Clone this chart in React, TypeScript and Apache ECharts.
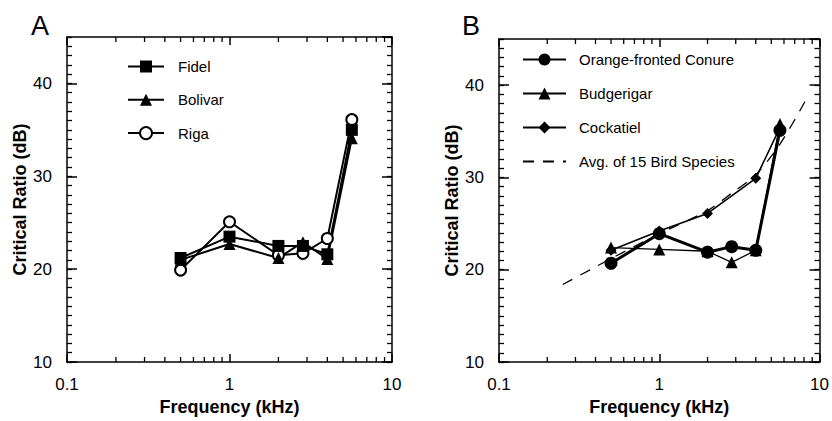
import React, { useEffect, useRef } from "react";
import * as echarts from "echarts";

// Panel A
const freqA = [0.5, 1, 2, 2.83, 4, 5.66];
const fidel = [21.2, 23.5, 22.5, 22.5, 21.6, 35.0];
const bolivar = [21.0, 22.7, 21.2, 22.9, 21.1, 34.1];
const riga = [19.9, 25.1, 21.5, 21.7, 23.3, 36.1];

// Panel B
const freqConure = [0.5, 1, 2, 2.83, 4, 5.66];
const conure = [20.7, 23.9, 21.9, 22.5, 22.1, 35.1];
const freqBudgie = [0.5, 1, 2, 2.83, 4, 5.66];
const budgerigar = [22.4, 22.2, 22.0, 20.8, 22.1, 35.8];
const freqCockatiel = [0.5, 1, 2, 4, 5.66];
const cockatiel = [22.1, 24.2, 26.1, 29.9, 35.4];
const freqAvg = [0.25, 0.5, 1, 2, 2.83, 4, 5.66, 8.1];
const avg15 = [18.4, 21.2, 23.9, 26.4, 28.3, 30.3, 33.6, 38.2];

const minorFreq = [0.2, 0.3, 0.4, 0.5, 0.6, 0.7, 0.8, 0.9, 2, 3, 4, 5, 6, 7, 8, 9];
const yMin = 10;
const yMax = 45;

const FONT = "'Liberation Sans', Arial, Helvetica, sans-serif";

const zip = (xs: number[], ys: number[]) => xs.map((x, i) => [x, ys[i]]);

export default function App() {
  const ref = useRef<HTMLDivElement>(null);
  useEffect(() => {
    if (!ref.current) return;
    const chart = echarts.init(ref.current, null, { renderer: "svg" });

    const grids = [
      { left: 67, top: 37, width: 325, height: 329 },
      { left: 499, top: 39, width: 326, height: 328 },
    ];

    const xAxes: any[] = [];
    const yAxes: any[] = [];
    grids.forEach((_, gi) => {
      xAxes.push({
        type: "log",
        logBase: 10,
        min: 0.1,
        max: 10,
        gridIndex: gi,
        position: "bottom",
        name: "Frequency (kHz)",
        nameLocation: "middle",
        nameGap: 36,
        nameTextStyle: { fontFamily: FONT, fontSize: 18, fontWeight: "bold", color: "#000" },
        axisLine: { lineStyle: { color: "#000", width: 1.5 } },
        axisTick: { inside: true, length: 8, lineStyle: { color: "#000", width: 1.5 } },
        axisLabel: {
          fontFamily: FONT,
          fontSize: 17,
          color: "#000",
          margin: 14,
          formatter: (v: number) => (v < 0.5 ? "0.1" : v < 5 ? "1" : "10"),
        },
        splitLine: { show: false },
      });
      xAxes.push({
        type: "log",
        logBase: 10,
        min: 0.1,
        max: 10,
        gridIndex: gi,
        position: "top",
        axisLine: { lineStyle: { color: "#000", width: 1.5 } },
        axisTick: { inside: true, length: 8, lineStyle: { color: "#000", width: 1.5 } },
        axisLabel: { show: false },
        splitLine: { show: false },
      });
      // left major with labels
      yAxes.push({
        type: "value",
        min: yMin,
        max: yMax,
        interval: 10,
        gridIndex: gi,
        position: "left",
        name: "Critical Ratio (dB)",
        nameLocation: "middle",
        nameGap: 35,
        nameTextStyle: { fontFamily: FONT, fontSize: 18, fontWeight: "bold", color: "#000" },
        axisLine: { show: true, lineStyle: { color: "#000", width: 1.5 } },
        axisTick: { inside: true, length: 10, lineStyle: { color: "#000", width: 1.5 } },
        axisLabel: {
          fontFamily: FONT,
          fontSize: 17,
          color: "#000",
          margin: 15,
          showMaxLabel: false,
          formatter: (v: number) => (v % 10 === 0 ? String(v) : ""),
        },
        splitLine: { show: false },
      });
      // left minor
      yAxes.push({
        type: "value",
        min: yMin,
        max: yMax,
        interval: 1,
        gridIndex: gi,
        position: "left",
        axisLine: { show: false },
        axisTick: { inside: true, length: 5, lineStyle: { color: "#000", width: 1.3 } },
        axisLabel: { show: false },
        splitLine: { show: false },
      });
      // right major
      yAxes.push({
        type: "value",
        min: yMin,
        max: yMax,
        interval: 10,
        gridIndex: gi,
        position: "right",
        axisLine: { show: true, lineStyle: { color: "#000", width: 1.5 } },
        axisTick: { inside: true, length: 10, lineStyle: { color: "#000", width: 1.5 } },
        axisLabel: { show: false },
        splitLine: { show: false },
      });
      // right minor
      yAxes.push({
        type: "value",
        min: yMin,
        max: yMax,
        interval: 1,
        gridIndex: gi,
        position: "right",
        axisLine: { show: false },
        axisTick: { inside: true, length: 5, lineStyle: { color: "#000", width: 1.3 } },
        axisLabel: { show: false },
        splitLine: { show: false },
      });
    });

    const minorTicks = (gi: number) => ({
      type: "custom",
      xAxisIndex: gi * 2,
      yAxisIndex: gi * 4,
      silent: true,
      data: minorFreq.map((f) => [f, yMin]),
      renderItem: (_p: any, api: any) => {
        const f = api.value(0);
        const b = api.coord([f, yMin]);
        const t = api.coord([f, yMax]);
        return {
          type: "group",
          children: [
            { type: "line", shape: { x1: b[0], y1: b[1], x2: b[0], y2: b[1] - 5 }, style: { stroke: "#000", lineWidth: 1.3 } },
            { type: "line", shape: { x1: t[0], y1: t[1], x2: t[0], y2: t[1] + 5 }, style: { stroke: "#000", lineWidth: 1.3 } },
          ],
        };
      },
    });

    const lineBase = (gi: number) => ({
      type: "line",
      xAxisIndex: gi * 2,
      yAxisIndex: gi * 4,
      showSymbol: true,
      symbolKeepAspect: true,
    });

    const option: any = {
      animation: false,
      backgroundColor: "#fff",
      textStyle: { fontFamily: FONT },
      grid: grids,
      xAxis: xAxes,
      yAxis: yAxes,
      graphic: [
        { type: "text", left: 31, top: 12, style: { text: "A", font: `27px ${FONT}`, fill: "#000" } },
        { type: "text", left: 462, top: 12, style: { text: "B", font: `27px ${FONT}`, fill: "#000" } },
      ],
      legend: [
        {
          orient: "vertical",
          left: 127,
          top: 59,
          padding: 0,
          itemWidth: 36,
          itemHeight: 15,
          itemGap: 18.3,
          data: ["Fidel", "Bolivar", "Riga"],
          textStyle: { fontFamily: FONT, fontSize: 15, color: "#000", padding: [0, 0, 0, 9] },
        },
        {
          orient: "vertical",
          left: 522,
          top: 52,
          padding: 0,
          itemWidth: 43,
          itemHeight: 15,
          itemGap: 19,
          data: [
            "Orange-fronted Conure",
            "Budgerigar",
            "Cockatiel",
            { name: "Avg. of 15 Bird Species", itemStyle: { opacity: 0 } },
          ],
          textStyle: { fontFamily: FONT, fontSize: 15, color: "#000", padding: [0, 0, 0, 8] },
        },
      ],
      series: [
        minorTicks(0),
        minorTicks(1),
        {
          ...lineBase(0),
          name: "Riga",
          data: zip(freqA, riga),
          symbol: "emptyCircle",
          symbolSize: 11,
          lineStyle: { color: "#000", width: 2 },
          itemStyle: { color: "#000", borderWidth: 1.5 },
        },
        {
          ...lineBase(0),
          name: "Bolivar",
          data: zip(freqA, bolivar),
          symbol: "triangle",
          symbolSize: 12,
          lineStyle: { color: "#000", width: 2 },
          itemStyle: { color: "#000" },
        },
        {
          ...lineBase(0),
          name: "Fidel",
          data: zip(freqA, fidel),
          symbol: "rect",
          symbolSize: 12,
          lineStyle: { color: "#000", width: 2 },
          itemStyle: { color: "#000" },
        },
        {
          ...lineBase(1),
          name: "Avg. of 15 Bird Species",
          data: zip(freqAvg, avg15),
          symbol: "none",
          showSymbol: false,
          smooth: 0.3,
          lineStyle: { color: "#000", width: 1.3, type: [11, 9] },
          itemStyle: { color: "#000" },
        },
        {
          ...lineBase(1),
          name: "Cockatiel",
          data: zip(freqCockatiel, cockatiel),
          symbol: "diamond",
          symbolSize: 11,
          lineStyle: { color: "#000", width: 1.6 },
          itemStyle: { color: "#000" },
        },
        {
          ...lineBase(1),
          name: "Budgerigar",
          data: zip(freqBudgie, budgerigar),
          symbol: "triangle",
          symbolSize: 12,
          lineStyle: { color: "#000", width: 1.3 },
          itemStyle: { color: "#000" },
        },
        {
          ...lineBase(1),
          name: "Orange-fronted Conure",
          data: zip(freqConure, conure),
          symbol: "circle",
          symbolSize: 13,
          lineStyle: { color: "#000", width: 3 },
          itemStyle: { color: "#000" },
        },
      ],
    };
    chart.setOption(option);
    return () => chart.dispose();
  }, []);
  return (
    <div
      ref={ref}
      style={{ position: "fixed", left: 0, top: 0, width: 832, height: 421, background: "#fff" }}
    />
  );
}
